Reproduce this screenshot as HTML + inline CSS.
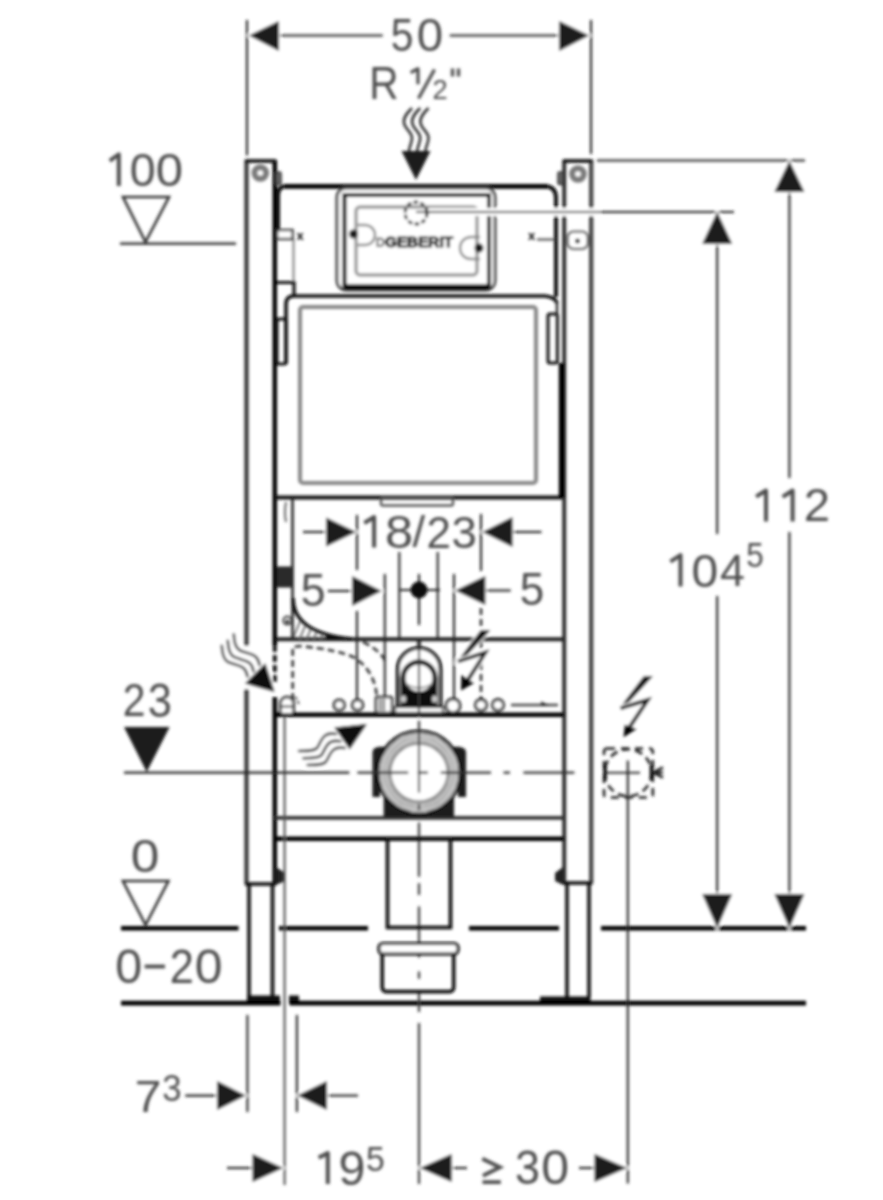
<!DOCTYPE html>
<html><head><meta charset="utf-8">
<style>
html,body{margin:0;padding:0;background:#fff;}
svg{display:block;}
.d{stroke:#222;stroke-width:2.1;fill:none}
.a{fill:#1e1e1e;stroke:#fff;stroke-width:2.5;paint-order:stroke}
text{font-family:"Liberation Sans",sans-serif;}
.f{fill:#4e4e4e}
</style></head><body>
<svg width="883" height="1200" viewBox="0 0 883 1200">
<defs>
<filter id="bl" filterUnits="userSpaceOnUse" x="0" y="0" width="883" height="1200"><feGaussianBlur stdDeviation="1.5"/></filter>
<clipPath id="hc"><path d="M293,600 C293,625 320,636 352,639 L293,639 Z"/></clipPath>
</defs>
<rect x="0" y="0" width="883" height="1200" fill="#fff"/>
<g filter="url(#bl)">

<!-- ===== FRAME / STRUCTURE ===== -->
<g fill="none">
<line x1="246.5" y1="160" x2="246.5" y2="884" stroke="#3a3a3a" stroke-width="4.3"/>
<line x1="274.8" y1="160" x2="274.8" y2="645" stroke="#000" stroke-width="4.5"/>
<line x1="274.8" y1="645" x2="274.8" y2="684" stroke="#111" stroke-width="3.8" stroke-dasharray="7,3"/>
<line x1="274.8" y1="697" x2="274.8" y2="884" stroke="#000" stroke-width="4.5"/>
<line x1="245" y1="161" x2="276" y2="161" stroke="#111" stroke-width="3.6"/>
<line x1="245" y1="884" x2="276" y2="884" stroke="#111" stroke-width="3.6"/>
<line x1="564.2" y1="160" x2="564.2" y2="883" stroke="#2a2a2a" stroke-width="4"/>
<line x1="591.2" y1="160" x2="591.2" y2="883" stroke="#444" stroke-width="4.3"/>
<line x1="563" y1="161" x2="592.5" y2="161" stroke="#111" stroke-width="3.6"/>
<line x1="563" y1="883" x2="592.5" y2="883" stroke="#111" stroke-width="3.6"/>
<line x1="249" y1="884" x2="249" y2="997" stroke="#111" stroke-width="3.6"/>
<line x1="272.5" y1="884" x2="272.5" y2="997" stroke="#111" stroke-width="3.6"/>
<line x1="567" y1="883" x2="567" y2="997" stroke="#111" stroke-width="3.6"/>
<line x1="589" y1="883" x2="589" y2="997" stroke="#111" stroke-width="3.6"/>
</g>
<rect x="247" y="995.5" width="33" height="8" fill="#111"/>
<rect x="289" y="995.5" width="10" height="8" fill="#111"/>
<rect x="540" y="996.5" width="50.5" height="7" fill="#111"/>
<path d="M276,867 L285,873 L285,881 L276,885 Z" fill="#222"/>
<path d="M563,867 L555,873 L555,881 L563,885 Z" fill="#222"/>
<g stroke="#7a7a7a" stroke-width="6" fill="#fff">
<circle cx="260.3" cy="173" r="5.8"/>
<circle cx="578" cy="174" r="5.8"/>
</g>
<rect x="276" y="172" width="5" height="12.5" rx="1.5" fill="#666" stroke="#333" stroke-width="1.6"/>
<rect x="558" y="172" width="5" height="12.5" rx="1.5" fill="#666" stroke="#333" stroke-width="1.6"/>
<rect x="567.5" y="231.5" width="20.5" height="17.5" rx="6" fill="none" stroke="#666" stroke-width="2.2"/>
<circle cx="577.5" cy="241" r="2" fill="#222"/>

<!-- floor lines -->
<g stroke="#000" stroke-width="4.6">
<line x1="121" y1="928.3" x2="238.5" y2="928.3"/>
<line x1="279" y1="928.3" x2="368" y2="928.3"/>
<line x1="469" y1="928.3" x2="559" y2="928.3"/>
<line x1="601" y1="928.3" x2="806" y2="928.3"/>
<line x1="121" y1="1003.1" x2="280.5" y2="1003.1"/>
<line x1="289.5" y1="1003.1" x2="806" y2="1003.1"/>
</g>

<!-- TANK -->
<path d="M278,230 L278,195 Q278,186 287,186 L544,186 Q556,186 556,198 L556,297" fill="none" stroke="#111" stroke-width="4"/>
<line x1="285" y1="186.4" x2="547" y2="186.4" stroke="#000" stroke-width="4.7"/>
<rect x="337" y="188" width="158" height="102" rx="9" fill="#fff" stroke="#444" stroke-width="3"/>
<rect x="344.5" y="195" width="144.5" height="91" fill="none" stroke="#000" stroke-width="4"/>
<line x1="344" y1="287" x2="489" y2="287" stroke="#000" stroke-width="5.5"/>
<rect x="356" y="207" width="121" height="68" rx="4" fill="none" stroke="#999" stroke-width="3.4"/>
<circle cx="416" cy="213" r="11" fill="none" stroke="#111" stroke-width="2.8" stroke-dasharray="4.5,2.5"/>
<path d="M357.5,225 L365,225 A10,10 0 0 1 365,245 L357.5,245" fill="none" stroke="#888" stroke-width="2.4"/>
<path d="M480,237 L471,237 A11,11 0 0 0 471,259 L480,259" fill="none" stroke="#888" stroke-width="2.4"/>
<circle cx="353.5" cy="234" r="4.5" fill="#1a1a1a"/>
<circle cx="479" cy="248" r="4.5" fill="#1a1a1a"/>
<path d="M377.5,238.5 L381,238.5 A4,4 0 0 1 381,246 L377.5,246 Z" fill="none" stroke="#666" stroke-width="2"/>
<text x="385" y="246.8" textLength="68" lengthAdjust="spacingAndGlyphs" style="font-size:14.5px;font-weight:bold" fill="#000" stroke="#000" stroke-width="0.9">GEBERIT</text>
<line x1="293.5" y1="239" x2="293.5" y2="282" stroke="#888" stroke-width="2.2"/>
<rect x="277" y="230" width="15.5" height="9" fill="#fff" stroke="#333" stroke-width="2.4"/>
<text x="296.5" y="239.5" style="font-size:13px;font-weight:bold" fill="#000">x</text>
<text x="528" y="239.5" style="font-size:13px;font-weight:bold" fill="#000">x</text>
<line x1="537" y1="239.5" x2="555" y2="239.5" stroke="#444" stroke-width="2"/>
<path d="M277,282.5 L294,282.5 L294,296" fill="none" stroke="#111" stroke-width="3.2"/>

<!-- LOWER PANEL -->
<path d="M286,364 L286,304 Q286,296 294,296 L545,296 Q555,297 557,303" fill="none" stroke="#111" stroke-width="3.6"/>
<rect x="300" y="307" width="236" height="176" rx="3" fill="none" stroke="#888" stroke-width="4"/>
<rect x="277" y="319" width="9" height="45" rx="2" fill="none" stroke="#111" stroke-width="3"/>
<rect x="548" y="314" width="9.5" height="49" rx="2" fill="none" stroke="#111" stroke-width="3"/>
<line x1="275" y1="497.5" x2="562" y2="497.5" stroke="#111" stroke-width="4"/>
<rect x="381" y="498.5" width="72" height="7" rx="2" fill="none" stroke="#555" stroke-width="2.4"/>
<line x1="557" y1="300" x2="557" y2="363" stroke="#222" stroke-width="2.4"/>
<line x1="561.8" y1="363" x2="561.8" y2="498" stroke="#000" stroke-width="6"/>

<!-- cross members -->
<line x1="277" y1="639.2" x2="564" y2="639.2" stroke="#222" stroke-width="4"/>
<line x1="275" y1="714.8" x2="564" y2="714.8" stroke="#000" stroke-width="4.5"/>
<line x1="275" y1="817.8" x2="564" y2="817.8" stroke="#333" stroke-width="3.8"/>
<line x1="275" y1="838.7" x2="564" y2="838.7" stroke="#000" stroke-width="4.5"/>
<line x1="284.6" y1="716" x2="284.6" y2="1185" stroke="#555" stroke-width="2.2"/>

<!-- left pipe & bend -->
<g clip-path="url(#hc)" stroke="#666" stroke-width="1.8">
<line x1="290" y1="645" x2="305" y2="610"/>
<line x1="297" y1="645" x2="312" y2="610"/>
<line x1="304" y1="645" x2="319" y2="610"/>
<line x1="311" y1="645" x2="326" y2="610"/>
<line x1="318" y1="645" x2="333" y2="610"/>
<line x1="325" y1="645" x2="340" y2="610"/>
</g>
<path d="M326,636 Q340,638.5 352,639 L326,639 Z" fill="#111"/>
<line x1="292.5" y1="498" x2="292.5" y2="639" stroke="#222" stroke-width="2.6"/>
<rect x="277" y="566.5" width="15.5" height="21" fill="#2a2a2a"/>
<path d="M293,598 C293,625 320,636 352,639" fill="none" stroke="#111" stroke-width="3.6"/>
<circle cx="287.3" cy="620.6" r="4" fill="none" stroke="#444" stroke-width="2"/>
<circle cx="287.3" cy="621.5" r="1.8" fill="#111"/>
<path d="M286,502 Q284,512 286,522" fill="none" stroke="#555" stroke-width="1.8"/>

<!-- dashed hidden lines -->
<g stroke="#333" stroke-width="2.6" fill="none" stroke-dasharray="7,4">
<path d="M292.7,700 L292.7,647 L300,646 Q340,650 355,658 Q376,672 377,700"/>
<path d="M363,642 Q380,650 386,662"/>
<line x1="481" y1="608" x2="481" y2="700"/>
</g>

<!-- ===== DIMENSIONS ===== -->
<line class="d" x1="247" y1="20" x2="247" y2="155.5"/>
<line class="d" x1="591" y1="20" x2="591" y2="154"/>
<line class="d" x1="250" y1="35.5" x2="382.7" y2="35.5"/>
<line class="d" x1="449.7" y1="35.5" x2="589" y2="35.5"/>
<polygon class="a" points="249,35.5 279,21 279,51"/>
<polygon class="a" points="589,35.5 559,21 559,51"/>

<line x1="418.5" y1="98.5" x2="434.5" y2="69.5" stroke="#555" stroke-width="3.4"/>
<line x1="452.5" y1="68.5" x2="452.5" y2="76.5" stroke="#555" stroke-width="3.4"/>
<line x1="458.5" y1="68.5" x2="458.5" y2="76.5" stroke="#555" stroke-width="3.4"/>
<g stroke="#333" stroke-width="2.6" fill="none">
<path d="M412,108 C408,112 403,117 404,123 C405,129 412,132 412,138 C412,143 409,147 409,151"/>
<path d="M420.2,108 C416.2,112 411.2,117 412.2,123 C413.2,129 420.2,132 420.2,138 C420.2,143 417.2,147 417.2,151"/>
<path d="M428.5,108 C424.5,112 419.5,117 420.5,123 C421.5,129 428.5,132 428.5,138 C428.5,143 425.5,147 425.5,151"/>
</g>
<polygon points="401.5,151 430.5,151 416,180" fill="#1e1e1e"/>

<!-- level marks -->
<polygon points="123,197 169,197 145.5,242" fill="none" stroke="#333" stroke-width="2.6"/>
<line class="d" x1="120" y1="243.6" x2="236" y2="243.6"/>
<polygon points="124,727 169.6,727 146.7,772" fill="#1e1e1e"/>
<polygon points="122.9,881 168.4,881 145.6,925" fill="none" stroke="#333" stroke-width="2.6"/>

<!-- right dims -->
<line class="d" x1="597" y1="160.5" x2="805" y2="160.5"/>
<line x1="429" y1="212" x2="600" y2="212" stroke="#fff" stroke-width="8"/>
<line class="d" x1="416" y1="212" x2="734" y2="212"/>
<line class="d" x1="789.4" y1="190" x2="789.4" y2="478"/>
<line class="d" x1="789.4" y1="532" x2="789.4" y2="896"/>
<line class="d" x1="717.2" y1="242" x2="717.2" y2="534"/>
<line class="d" x1="717.2" y1="596" x2="717.2" y2="896"/>
<polygon class="a" points="789.4,161 774.4,192 804.4,192"/>
<polygon class="a" points="717.2,212 702.2,244 732.2,244"/>
<polygon class="a" points="789.4,928 774.4,894 804.4,894"/>
<polygon class="a" points="717.2,928 702.2,894 732.2,894"/>

<!-- 18/23 -->
<line class="d" x1="357" y1="515" x2="357" y2="570"/>
<line class="d" x1="357" y1="611" x2="357" y2="700"/>
<line class="d" x1="481" y1="514" x2="481" y2="571"/>
<line class="d" x1="303" y1="532" x2="327" y2="532"/>
<line class="d" x1="512" y1="532" x2="541.5" y2="532"/>

<!-- 5 / 5 ext & centre -->
<line class="d" x1="384.8" y1="574" x2="384.8" y2="697"/>
<line class="d" x1="454" y1="574" x2="454" y2="698"/>
<line class="d" x1="399.3" y1="552" x2="399.3" y2="639"/>
<line class="d" x1="437.7" y1="552" x2="437.7" y2="639"/>
<line class="d" x1="419" y1="574" x2="419" y2="625"/>
<line class="d" x1="399" y1="590" x2="440" y2="590"/>
<circle cx="419" cy="590" r="8.5" fill="#111"/>
<line class="d" x1="327.8" y1="591" x2="353" y2="591"/>
<line class="d" x1="485" y1="590.5" x2="510.7" y2="590.5"/>
<polygon class="a" points="356,532 326,517.5 326,546.5"/>
<polygon class="a" points="482.6,532 512.5,517 512.5,547"/>
<polygon class="a" points="381.5,591 352,576 352,606"/>
<polygon class="a" points="455.4,590.5 485.3,576 485.3,605"/>

<!-- drain elbow -->
<line x1="419" y1="639" x2="419" y2="648" stroke="#111" stroke-width="3.6"/>
<path d="M397.7,707 L397.7,669.4 A21.4,21.4 0 0 1 440.5,669.4 L440.5,707 Z" fill="#fff" stroke="#000" stroke-width="3.6"/>
<path d="M400.5,707 L400.5,678 A18.5,18.5 0 0 1 437.5,678 L437.5,707 Z" fill="#111"/>
<circle cx="419" cy="678" r="13.5" fill="#fff"/>
<path d="M406,684 Q419,692 432,684" fill="none" stroke="#888" stroke-width="2"/>
<line x1="419" y1="665" x2="419" y2="691" stroke="#777" stroke-width="2"/>
<ellipse cx="403.5" cy="699" rx="2.5" ry="3.5" fill="#ccc"/>
<ellipse cx="434.5" cy="699" rx="2.5" ry="3.5" fill="#ccc"/>
<rect x="395" y="707" width="48" height="6" fill="#fff" stroke="#222" stroke-width="2.2"/>

<!-- circles row -->
<g fill="#fff" stroke="#1a1a1a" stroke-width="2.8">
<circle cx="339.2" cy="705" r="5.2"/>
<circle cx="357.6" cy="705" r="5.2"/>
<circle cx="453" cy="705.8" r="7"/>
<circle cx="481" cy="705" r="5.5"/>
<circle cx="498" cy="705" r="5.5"/>
</g>
<path d="M280.5,713 L280.5,703.5 A6.5,6.5 0 0 1 293.5,703.5 L293.5,713" fill="#fff" stroke="#1a1a1a" stroke-width="2.6"/>
<line x1="282" y1="706.5" x2="292" y2="706.5" stroke="#444" stroke-width="2"/>
<path d="M295,697 Q298,700 298.5,704" fill="none" stroke="#444" stroke-width="2" stroke-dasharray="3,2"/>
<rect x="376" y="697" width="16" height="16" rx="2" fill="#fff" stroke="#1a1a1a" stroke-width="2.6"/>
<line x1="380.5" y1="699" x2="380.5" y2="711" stroke="#444" stroke-width="2"/>
<line x1="384" y1="699" x2="384" y2="711" stroke="#444" stroke-width="2"/>
<line x1="511" y1="705" x2="558" y2="705" stroke="#444" stroke-width="2.4"/>
<path d="M541,701.5 L549,705 L541,706 Z" fill="#222"/>

<!-- lightning bolts -->
<g fill="#000" stroke="#fff" stroke-width="2.5" paint-order="stroke">
<polygon points="481,630 490.5,630 461.5,661 456.5,662.5"/>
<polygon points="644,676 653,676 623,708.5 618.5,709.5"/>
</g>
<g stroke="#fff" stroke-width="6.5" fill="none" stroke-linecap="round">
<path d="M458,661.4 L485.4,652.6 L466,683"/>
<path d="M620.5,708.2 L647.8,700 L629,728"/>
</g>
<g stroke="#000" stroke-width="3.6" fill="none" stroke-linejoin="miter">
<path d="M458,661.4 L485.4,652.6 L466,683"/>
<path d="M620.5,708.2 L647.8,700 L629,728"/>
</g>
<polygon points="461,690.5 461.5,675 474,683" fill="#000"/>
<polygon points="623.5,737.3 625,724.7 636.5,729" fill="#000"/>

<!-- wavy arrows -->
<line x1="246.2" y1="646" x2="246.2" y2="689" stroke="#fff" stroke-width="6"/>
<g fill="none" stroke-linecap="round">
<g stroke="#fff" stroke-width="6.5">
<path d="M233.8,634.3 C234,641 235,648 240,650.5 C246,653 253,654 256,657 C258,659 259,662 259.5,665"/>
<path d="M227.8,640.7 C228,647 229,654 234,656.9 C240,659.4 247,660.4 250,663.4 C252,665.4 253,668.4 253.5,671.4"/>
<path d="M221.8,645.8 C222,652 223,659 228,662 C234,664.5 241,665.5 244,668.5 C246,670.5 247,673.5 247.5,676.5"/>
<path d="M299,751 C307,751 314,751 317,748 C320,744 321,738 326,735 C329,733.5 333,733.5 336,734"/>
<path d="M303.4,758.2 C311.4,758.2 318.4,758.2 321.4,755.2 C324.4,751.2 325.4,745.2 330.4,742.2 C333.4,740.7 337.4,740.7 340.4,741.2"/>
<path d="M307.7,765 C315.7,765 322.7,765 325.7,762 C328.7,758 329.7,752 334.7,749 C337.7,747.5 341.7,747.5 344.7,748"/>
</g>
<g stroke="#333" stroke-width="2.6">
<path d="M233.8,634.3 C234,641 235,648 240,650.5 C246,653 253,654 256,657 C258,659 259,662 259.5,665"/>
<path d="M227.8,640.7 C228,647 229,654 234,656.9 C240,659.4 247,660.4 250,663.4 C252,665.4 253,668.4 253.5,671.4"/>
<path d="M221.8,645.8 C222,652 223,659 228,662 C234,664.5 241,665.5 244,668.5 C246,670.5 247,673.5 247.5,676.5"/>
<path d="M299,751 C307,751 314,751 317,748 C320,744 321,738 326,735 C329,733.5 333,733.5 336,734"/>
<path d="M303.4,758.2 C311.4,758.2 318.4,758.2 321.4,755.2 C324.4,751.2 325.4,745.2 330.4,742.2 C333.4,740.7 337.4,740.7 340.4,741.2"/>
<path d="M307.7,765 C315.7,765 322.7,765 325.7,762 C328.7,758 329.7,752 334.7,749 C337.7,747.5 341.7,747.5 344.7,748"/>
</g>
</g>
<polygon points="244.8,683.6 265.2,663.2 274.6,692.1" fill="#111" stroke="#fff" stroke-width="2" paint-order="stroke"/>
<polygon points="334.3,727.5 367,724.1 349.7,749.6" fill="#111" stroke="#fff" stroke-width="2" paint-order="stroke"/>

<!-- big fitting -->
<path d="M372.5,797 L372.5,752 Q373,747 380,746.8 L458,746.8 Q465.5,747 466,752 L466,797 L458,797 L458,790 L454,790 L454,817 L383.7,817 L383.7,790 L380,790 L380,797 Z" fill="#1a1a1a"/>
<circle cx="419" cy="772.6" r="41.5" fill="#fff" stroke="#111" stroke-width="3.4"/>
<circle cx="419" cy="772.6" r="38" fill="none" stroke="#999" stroke-width="2"/>
<circle cx="419" cy="772.6" r="34.8" fill="none" stroke="#888" stroke-width="2"/>
<circle cx="419" cy="772.6" r="31.6" fill="none" stroke="#888" stroke-width="2"/>
<circle cx="419" cy="772.6" r="28.8" fill="none" stroke="#666" stroke-width="2"/>

<!-- centre lines -->
<line class="d" x1="124" y1="772.6" x2="349.4" y2="772.6"/>
<g stroke="#333" stroke-width="2.1">
<path d="M357.4,772.6 H408.2 M417.7,772.6 H427.9 M440.8,772.6 H491 M503.5,772.6 H510 M523.4,772.6 H574.4 M604.3,772.7 H640"/>
<path d="M419,639 V716 M419,720.8 V792.5 M419,804 V810 M419,822.5 V876.7 M419,883.3 V895 M419,906.5 V957.5 M419,971.6 V978.7 M419,993 V1012 M419,1023 V1184"/>
</g>

<!-- elec box -->
<rect x="604" y="748.5" width="48.8" height="49" rx="3" fill="none" stroke="#222" stroke-width="2.6" stroke-dasharray="8,6"/>
<circle cx="628.1" cy="772.7" r="23.5" fill="none" stroke="#222" stroke-width="2.6" stroke-dasharray="8,5"/>
<line x1="605" y1="765" x2="605" y2="779" stroke="#111" stroke-width="3.6"/>
<line x1="651.5" y1="765" x2="651.5" y2="779" stroke="#111" stroke-width="3.6"/>
<line class="d" x1="627.8" y1="760.4" x2="627.8" y2="1183.5"/>
<path d="M653,772.5 L663,767.5 M653,772.5 L663,777.5 M653,772.5 L663,772.5" stroke="#222" stroke-width="2.6"/>

<!-- drain pipe & collector -->
<rect x="387.5" y="839" width="63" height="88.5" fill="none" stroke="#111" stroke-width="3.6"/>
<rect x="382.2" y="947" width="71.5" height="44.6" rx="4" fill="none" stroke="#111" stroke-width="3.6"/>
<rect x="379" y="943.5" width="79" height="10.5" rx="4" fill="#fff" stroke="#111" stroke-width="3.2"/>

<!-- bottom dims -->
<line class="d" x1="247.4" y1="1015" x2="247.4" y2="1112"/>
<line class="d" x1="296.9" y1="1015" x2="296.9" y2="1112"/>
<line class="d" x1="185.3" y1="1095.6" x2="218" y2="1095.6"/>
<line class="d" x1="326" y1="1095.6" x2="358" y2="1095.6"/>
<line class="d" x1="227" y1="1168" x2="253" y2="1168"/>
<line class="d" x1="451" y1="1168" x2="467" y2="1168"/>
<line class="d" x1="579" y1="1168" x2="595" y2="1168"/>
<polygon class="a" points="245.7,1095.6 217,1081 217,1110"/>
<polygon class="a" points="297.5,1095.6 327,1081 327,1110"/>
<polygon class="a" points="283,1168 252.5,1154 252.5,1182"/>
<polygon class="a" points="420,1168 451.7,1154 451.7,1182"/>
<polygon class="a" points="627,1168 594.5,1154 594.5,1182"/>

<!-- ===== TEXT ===== -->
<text class="f" style="font-size:44px" transform="matrix(0.9286 0 0 1.0516 390.84 51.20)">5</text>
<text class="f" style="font-size:44px" transform="matrix(1.0762 0 0 1.0516 416.85 51.20)">0</text>
<text class="f" style="font-size:44px" transform="matrix(0.9240 0 0 1.0516 369.20 99.20)">R</text>
<text class="f" style="font-size:27.5px" transform="matrix(0.9923 0 0 1.0263 432.41 99.00)">2</text>
<text class="f" style="font-size:44px" transform="matrix(1.0571 0 0 1.0387 129.79 186.10)">0</text>
<text class="f" style="font-size:44px" transform="matrix(1.1143 0 0 1.0387 155.87 186.10)">0</text>
<text class="f" style="font-size:44px" transform="matrix(0.9300 0 0 1.0516 122.64 716.00)">2</text>
<text class="f" style="font-size:44px" transform="matrix(0.9857 0 0 1.0742 147.63 717.10)">3</text>
<text class="f" style="font-size:44px" transform="matrix(1.1667 0 0 1.0516 130.77 872.10)">0</text>
<text class="f" style="font-size:44px" transform="matrix(1.1000 0 0 1.0742 115.30 982.90)">0</text>
<text class="f" style="font-size:44px" transform="matrix(0.9850 0 0 1.0742 169.83 982.90)">2</text>
<text class="f" style="font-size:44px" transform="matrix(1.1333 0 0 1.0742 194.73 982.90)">0</text>
<text class="f" style="font-size:44px" transform="matrix(1.0750 0 0 1.0581 803.75 521.10)">2</text>
<text class="f" style="font-size:44px" transform="matrix(1.0905 0 0 1.0677 691.62 587.00)">0</text>
<text class="f" style="font-size:44px" transform="matrix(1.0182 0 0 0.9968 720.08 586.30)">4</text>
<text class="f" style="font-size:30px" transform="matrix(1.0500 0 0 1.1500 746.15 567.20)">5</text>
<text class="f" style="font-size:44px" transform="matrix(1.1476 0 0 1.0452 384.90 547.70)">8</text>
<text class="f" style="font-size:44px" transform="matrix(1.0333 0 0 0.9937 412.50 546.50)">/</text>
<text class="f" style="font-size:44px" transform="matrix(1.0000 0 0 1.0258 426.40 547.70)">2</text>
<text class="f" style="font-size:44px" transform="matrix(1.0381 0 0 1.0258 451.62 547.70)">3</text>
<text class="f" style="font-size:44px" transform="matrix(1.0143 0 0 1.0419 300.87 605.50)">5</text>
<text class="f" style="font-size:44px" transform="matrix(1.0000 0 0 1.0323 519.70 605.20)">5</text>
<text class="f" style="font-size:44px" transform="matrix(1.0900 0 0 0.9968 134.72 1111.60)">7</text>
<text class="f" style="font-size:30px" transform="matrix(1.1571 0 0 1.2100 162.34 1100.50)">3</text>
<text class="f" style="font-size:44px" transform="matrix(1.1000 0 0 1.0968 338.40 1185.00)">9</text>
<text class="f" style="font-size:30px" transform="matrix(1.1286 0 0 1.1750 365.97 1171.10)">5</text>
<text class="f" style="font-size:44px" transform="matrix(1.0190 0 0 1.0806 514.96 1184.10)">3</text>
<text class="f" style="font-size:44px" transform="matrix(1.1381 0 0 1.0903 541.22 1184.10)">0</text>
<line x1="144.7" y1="966.5" x2="165" y2="966.5" stroke="#4e4e4e" stroke-width="3.8"/>
<path d="M482.3,1158.7 L500,1167.3 L482.9,1175.8 M482.5,1182.2 H500.8" fill="none" stroke="#4e4e4e" stroke-width="3.8"/>
<path d="M109.8,160.9 Q115.3,156.6 118.8,154.4 L118.8,186.0 M756.1,496.6 Q762.5,492.7 766.0,490.5 L766.0,521.6 M782.6,496.9 Q789.1,492.7 792.6,490.5 L792.6,521.6 M670.4,561.6 Q677.0,557.3 680.5,555.1 L680.5,586.5 M364.3,523.0 Q370.6,519.2 374.1,517.0 L374.1,547.6 M318.6,1157.6 Q324.2,1155.2 327.8,1153.0 L327.8,1184.0" fill="none" stroke="#4e4e4e" stroke-width="4" stroke-linejoin="round"/>
<path d="M410.6,72.6 Q414.8,70.4 418,68.8 L418,84.2" fill="none" stroke="#4e4e4e" stroke-width="3.2" stroke-linejoin="round"/>
</g>
</svg>
</body></html>
